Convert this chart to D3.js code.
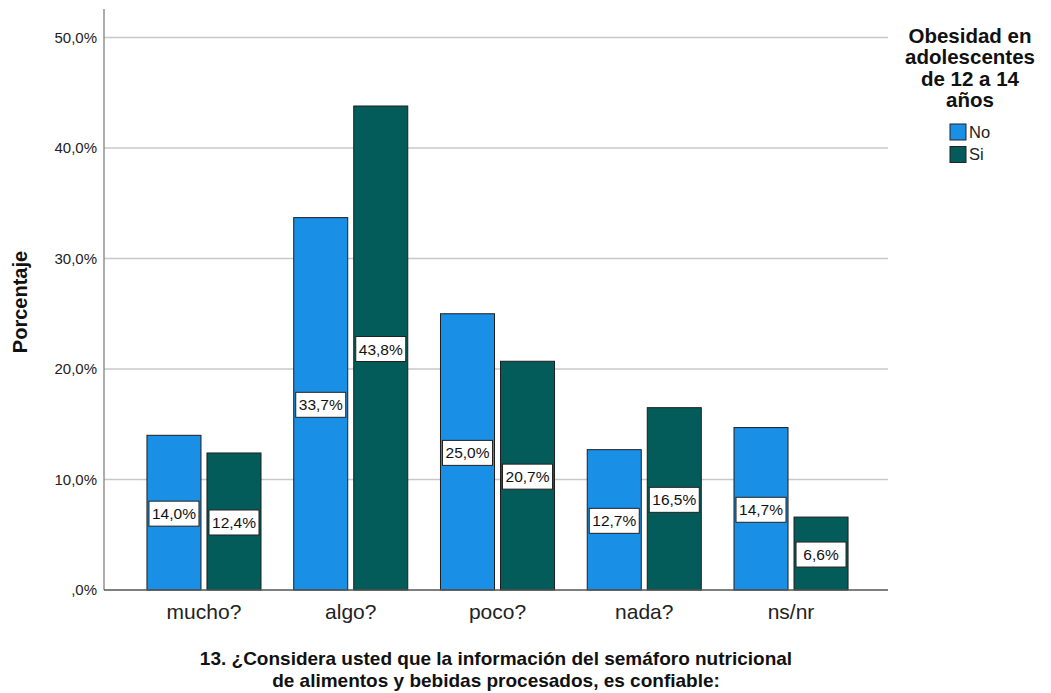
<!DOCTYPE html>
<html>
<head>
<meta charset="utf-8">
<script src="https://cdn.jsdelivr.net/npm/d3@7"></script>
<style>
  body { margin: 0; background: #fff; }
  svg { display: block; font-family: "Liberation Sans", Arial, sans-serif; }
</style>
</head>
<body>
<svg id="chart" width="1051" height="693"></svg>
<script>
// Respuestas a la pregunta 13 según obesidad en adolescentes
const categories = ["mucho?", "algo?", "poco?", "nada?", "ns/nr"];
const seriesNames = ["No", "Si"];
const valuesNo = [14.0, 33.7, 25.0, 12.7, 14.7];
const valuesSi = [12.4, 43.8, 20.7, 16.5, 6.6];
const yTicks = [0, 10, 20, 30, 40, 50];
const colors = ["#1a8fe6", "#035c5a"];

const svg = d3.select("#chart");
const plot = { left: 104, right: 888, top: 9, bottom: 590 };

const y = d3.scaleLinear().domain([0, 50]).range([plot.bottom, 37.5]);
const x = d3.scaleBand().domain(categories).range([130.6, 864.4]).paddingInner(0.223).paddingOuter(0.1115);
const xs = d3.scaleBand().domain(seriesNames).range([0, x.bandwidth()]).paddingInner(0.1);

const fmt = v => (v === 0 ? ",0" : d3.format(".1f")(v).replace(".", ",")) + "%";

// grid lines
svg.append("g")
  .selectAll("line")
  .data(yTicks.filter(t => t > 0))
  .join("line")
  .attr("x1", plot.left).attr("x2", plot.right)
  .attr("y1", d => y(d)).attr("y2", d => y(d))
  .attr("stroke", "#c8c8c8").attr("stroke-width", 1.3);

// y axis
const yAxis = svg.append("g")
  .attr("transform", `translate(${plot.left},0)`)
  .call(d3.axisLeft(y).tickValues(yTicks).tickFormat(fmt).tickSize(0).tickPadding(7));
yAxis.select(".domain").remove();
yAxis.selectAll("text").attr("font-size", 15).attr("fill", "#222")
  .attr("font-family", "'Liberation Sans', Arial, sans-serif");
svg.append("line")
  .attr("x1", plot.left).attr("x2", plot.left)
  .attr("y1", plot.top).attr("y2", plot.bottom)
  .attr("stroke", "#808080").attr("stroke-width", 1.3);

// bars
const rows = categories.map((c, i) => ({ cat: c, vals: [valuesNo[i], valuesSi[i]] }));
const groups = svg.append("g").selectAll("g")
  .data(rows).join("g")
  .attr("transform", d => `translate(${x(d.cat)},0)`);

const bars = groups.selectAll("g.bar")
  .data(d => d.vals.map((v, j) => ({ s: seriesNames[j], v, j })))
  .join("g").attr("class", "bar");

bars.append("rect")
  .attr("x", d => xs(d.s))
  .attr("width", xs.bandwidth())
  .attr("y", d => y(d.v))
  .attr("height", d => y(0) - y(d.v))
  .attr("fill", d => colors[d.j])
  .attr("stroke", "#1e1e1e").attr("stroke-width", 1);

// value labels
const lab = bars.append("g")
  .attr("transform", d => `translate(${xs(d.s) + xs.bandwidth() / 2},${(y(d.v) + y(0)) / 2 + 1})`);
lab.append("rect")
  .attr("x", -25).attr("y", -12.5).attr("width", 50).attr("height", 25)
  .attr("fill", "#fff").attr("stroke", "#222").attr("stroke-width", 1);
lab.append("text")
  .attr("text-anchor", "middle").attr("dy", "0.36em")
  .attr("font-size", 15.5).attr("fill", "#111")
  .text(d => fmt(d.v));

// x axis
svg.append("line")
  .attr("x1", plot.left).attr("x2", plot.right)
  .attr("y1", plot.bottom).attr("y2", plot.bottom)
  .attr("stroke", "#555").attr("stroke-width", 1.3);
const xAxis = svg.append("g")
  .attr("transform", `translate(0,${plot.bottom})`)
  .call(d3.axisBottom(x).tickSize(0).tickPadding(0));
xAxis.select(".domain").remove();
xAxis.selectAll("text").attr("font-size", 21).attr("fill", "#222")
  .attr("dy", null).attr("y", 29);

// axis titles
svg.append("text")
  .attr("transform", "translate(27,302) rotate(-90)")
  .attr("text-anchor", "middle").attr("font-weight", "bold").attr("font-size", 20)
  .attr("fill", "#111")
  .text("Porcentaje");

const xTitle = svg.append("text")
  .attr("text-anchor", "middle").attr("font-weight", "bold").attr("font-size", 19)
  .attr("fill", "#111");
xTitle.append("tspan").attr("x", 496).attr("y", 665)
  .text("13. ¿Considera usted que la información del semáforo nutricional");
xTitle.append("tspan").attr("x", 496).attr("y", 687)
  .text("de alimentos y bebidas procesados, es confiable:");

// legend
const legTitle = svg.append("text")
  .attr("text-anchor", "middle").attr("font-weight", "bold").attr("font-size", 20.5)
  .attr("fill", "#111");
["Obesidad en", "adolescentes", "de 12 a 14", "años"].forEach((t, i) => {
  legTitle.append("tspan").attr("x", 970).attr("y", 43 + i * 21.4).text(t);
});
const leg = svg.append("g").selectAll("g")
  .data(seriesNames).join("g")
  .attr("transform", (d, i) => `translate(950,${124 + i * 22.5})`);
leg.append("rect")
  .attr("width", 16).attr("height", 16)
  .attr("fill", (d, i) => colors[i]).attr("stroke", "#222").attr("stroke-width", 1);
leg.append("text")
  .attr("x", 19).attr("y", 8).attr("dy", "0.36em")
  .attr("font-size", 16.5).attr("fill", "#222")
  .text(d => d);
</script>
</body>
</html>
